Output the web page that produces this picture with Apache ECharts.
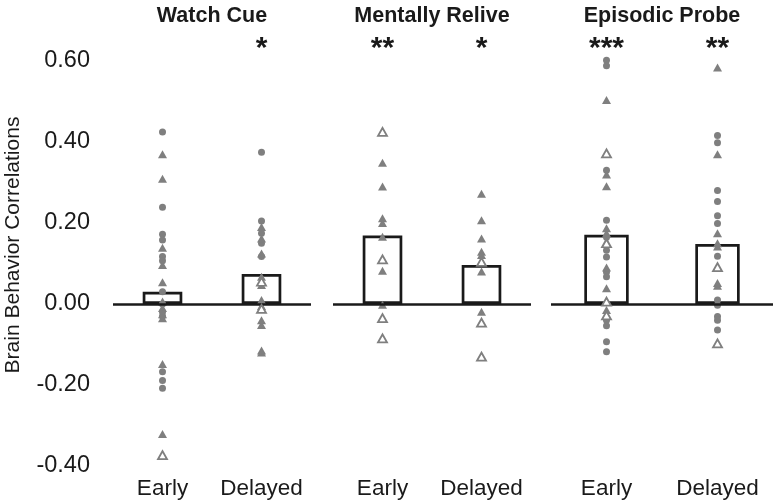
<!DOCTYPE html>
<html>
<head>
<meta charset="utf-8">
<script src="https://cdn.jsdelivr.net/npm/echarts@6/dist/echarts.min.js"></script>
<style>
html,body{margin:0;padding:0;background:#fff;}
#chart{width:776px;height:504px;}
</style>
</head>
<body>
<div id="chart"></div>
<script>
// ---- Data ----
const categories = ['Early', 'Delayed'];
const panelTitles = ['Watch Cue', 'Mentally Relive', 'Episodic Probe'];
const starLabels = [['', '*'], ['**', '*'], ['***', '**']];
const yAxisTitle = 'Brain Behavior Correlations';
const yMin = -0.4, yMax = 0.6, yStep = 0.2;

const watchMeans = [0.030, 0.074];
const reliveMeans = [0.169, 0.096];
const probeMeans = [0.171, 0.148];

// Watch Cue
const watchEarlyCircles = [0.425, 0.239, 0.172, 0.158, 0.117, 0.107, 0.030, 0.000, -0.020, -0.030, -0.167, -0.189, -0.208];
const watchEarlyTriangles = [0.370, 0.309, 0.139, 0.096, 0.054, 0.006, -0.010, -0.025, -0.035, -0.148, -0.321];
const watchEarlyOpen = [-0.373];
const watchDelayedCircles = [0.375, 0.205, 0.175, 0.150, 0.117];
const watchDelayedTriangles = [0.190, 0.162, 0.125, 0.067, 0.047, 0.010, -0.005, -0.040, -0.052, -0.115, -0.120];
const watchDelayedOpen = [0.055, -0.012];
// Mentally Relive
const reliveEarlyCircles = [];
const reliveEarlyTriangles = [0.349, 0.290, 0.212, 0.200, 0.166, 0.082, -0.002];
const reliveEarlyOpen = [0.425, 0.110, -0.035, -0.085];
const reliveDelayedCircles = [];
const reliveDelayedTriangles = [0.272, 0.207, 0.162, 0.129, 0.121, 0.080, -0.019];
const reliveDelayedOpen = [0.104, -0.046, -0.130];
// Episodic Probe
const probeEarlyCircles = [0.602, 0.588, 0.330, 0.207, 0.165, 0.133, 0.116, 0.079, 0.067, -0.040, -0.054, -0.093, -0.118];
const probeEarlyTriangles = [0.504, 0.320, 0.291, 0.187, 0.175, 0.090, 0.039, -0.015];
const probeEarlyOpen = [0.372, 0.150, 0.006, -0.028];
const probeDelayedCircles = [0.416, 0.398, 0.280, 0.253, 0.218, 0.199, 0.118, 0.010, -0.003, -0.031, -0.040, -0.064];
const probeDelayedTriangles = [0.584, 0.370, 0.175, 0.150, 0.142, 0.052, 0.045];
const probeDelayedOpen = [0.091, -0.097];

const panelData = [
  { means: watchMeans, circles: [watchEarlyCircles, watchDelayedCircles], triangles: [watchEarlyTriangles, watchDelayedTriangles], open: [watchEarlyOpen, watchDelayedOpen] },
  { means: reliveMeans, circles: [reliveEarlyCircles, reliveDelayedCircles], triangles: [reliveEarlyTriangles, reliveDelayedTriangles], open: [reliveEarlyOpen, reliveDelayedOpen] },
  { means: probeMeans, circles: [probeEarlyCircles, probeDelayedCircles], triangles: [probeEarlyTriangles, probeDelayedTriangles], open: [probeEarlyOpen, probeDelayedOpen] }
];

// ---- Layout ----
const FONT = 'Liberation Sans, Arial, Helvetica, sans-serif';
const INK = '#1a1a1a';
const GRAY = '#7f7f7f';
const gridBoxes = [
  { left: 113, width: 198 },
  { left: 333, width: 198 },
  { left: 551, width: 222 }
];

const grids = [], xAxes = [], yAxes = [], series = [];

function toPoints(lists) {
  const out = [];
  lists.forEach((vals, ci) => vals.forEach(v => out.push([categories[ci], v])));
  return out;
}

gridBoxes.forEach((g, i) => {
  grids.push({ left: g.left, width: g.width, top: 61, height: 405 });
  // bottom category axis (labels only)
  xAxes.push({
    type: 'category', gridIndex: i, data: categories, position: 'bottom',
    axisLine: { show: false, onZero: false }, axisTick: { show: false },
    axisLabel: { interval: 0, fontSize: 22.5, color: INK, fontFamily: FONT, margin: 11 },
    splitLine: { show: false }
  });
  // top category axis: stars + panel title
  xAxes.push({
    type: 'category', gridIndex: i, data: starLabels[i], position: 'top',
    axisLine: { show: false, onZero: false }, axisTick: { show: false },
    axisLabel: { interval: 0, fontSize: 30, fontWeight: 'bold', color: INK, fontFamily: FONT, margin: -3 },
    splitLine: { show: false },
    name: panelTitles[i], nameLocation: 'middle', nameGap: 34,
    nameTextStyle: { fontSize: 21.5, fontWeight: 'bold', color: INK, fontFamily: FONT }
  });
  yAxes.push({
    type: 'value', gridIndex: i, min: yMin, max: yMax, interval: yStep,
    axisLine: { show: false }, axisTick: { show: false }, splitLine: { show: false },
    axisLabel: {
      show: i === 0, fontSize: 23.5, color: INK, fontFamily: FONT, margin: 23,
      formatter: v => v.toFixed(2)
    }
  });
  const pd = panelData[i];
  series.push({
    type: 'bar', xAxisIndex: i * 2, yAxisIndex: i, data: pd.means,
    barWidth: '40%', z: 2,
    itemStyle: { color: '#ffffff', borderColor: INK, borderWidth: 2.7 },
    silent: true,
    markLine: {
      silent: true, symbol: ['none', 'none'], label: { show: false },
      lineStyle: { color: INK, width: 2.7, type: 'solid' },
      data: [{ yAxis: 0 }], animation: false
    }
  });
  series.push({
    type: 'scatter', xAxisIndex: i * 2, yAxisIndex: i, data: toPoints(pd.circles),
    symbol: 'circle', symbolSize: 7, clip: false, z: 4,
    itemStyle: { color: GRAY, opacity: 1 }
  });
  series.push({
    type: 'scatter', xAxisIndex: i * 2, yAxisIndex: i, data: toPoints(pd.triangles),
    symbol: 'triangle', symbolSize: [9, 8], clip: false, z: 4,
    itemStyle: { color: GRAY, opacity: 1 }
  });
  series.push({
    type: 'scatter', xAxisIndex: i * 2, yAxisIndex: i, data: toPoints(pd.open),
    symbol: 'triangle', symbolSize: [9, 8], clip: false, z: 5,
    itemStyle: { color: '#ffffff', borderColor: GRAY, borderWidth: 1.8, opacity: 1 }
  });
});

const chart = echarts.init(document.getElementById('chart'), null, { renderer: 'canvas' });
chart.setOption({
  animation: false,
  backgroundColor: '#ffffff',
  textStyle: { fontFamily: FONT },
  grid: grids,
  xAxis: xAxes,
  yAxis: yAxes,
  series: series,
  graphic: [{
    type: 'text', x: 13, y: 245, rotation: Math.PI / 2,
    style: { text: yAxisTitle, fontSize: 21, fontFamily: FONT, fill: INK, align: 'center', verticalAlign: 'middle' }
  }]
});
</script>
</body>
</html>
